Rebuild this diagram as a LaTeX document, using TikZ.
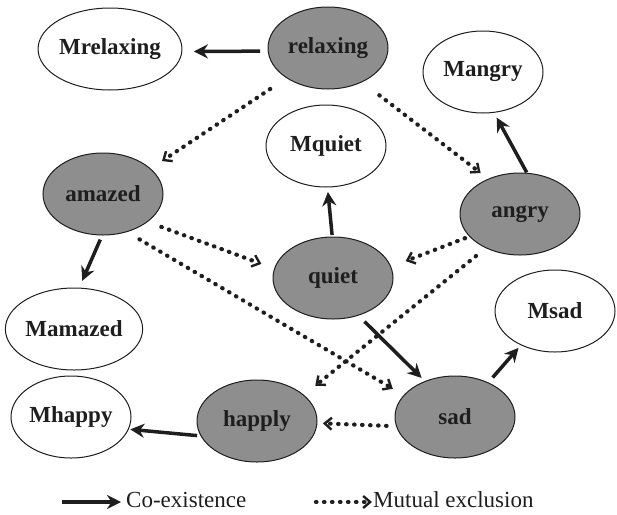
\documentclass[tikz,border=0pt]{standalone}
\usepackage{fontspec}
\setmainfont{Liberation Serif}
\usetikzlibrary{shapes.geometric,arrows.meta}
\definecolor{nodegray}{RGB}{142,142,142}
\definecolor{ink}{RGB}{30,30,30}
\begin{document}
\begin{tikzpicture}[x=1pt,y=-1pt,
  emo/.style={ellipse,draw=ink,line width=1pt,fill=nodegray,minimum width=120pt,minimum height=82pt,inner sep=0pt,outer sep=0pt,font=\fontsize{23}{27}\selectfont\bfseries,text=ink},
  mem/.style={emo,fill=white},
  coex/.style={draw=ink,line width=3.5pt,-{Stealth[length=14pt,width=14pt]}},
  mutex/.style={draw=ink,line width=4.2pt,line cap=round,dash pattern=on 0.5pt off 7.5pt,-{Straight Barb[length=7pt,width=12pt,line width=2.4pt]}},
  legtext/.style={anchor=west,font=\fontsize{23}{27}\selectfont,text=ink,inner sep=0pt}
]
\useasboundingbox (0,0) rectangle (617,514);
\node[mem] (Mrelaxing) at (110,49) {Mrelaxing};
\node[emo] (relaxing) at (328,48) {relaxing};
\node[mem] (Mangry) at (483,72) {Mangry};
\node[mem] (Mquiet) at (326,146) {Mquiet};
\node[emo] (angry) at (520,214) {angry};
\node[emo] (amazed) at (103,194) {amazed};
\node[emo] (quiet) at (333,278) {quiet};
\node[mem] (Mamazed) at (74,329) {Mamazed};
\node[mem] (Mhappy) at (71,417) {Mhappy};
\node[emo] (happly) at (257,421) {happly};
\node[mem] (Msad) at (555,311) {Msad};
\node[emo] (sad) at (455,417) {sad};

\draw[coex,shorten <=8pt,shorten >=12pt] (relaxing.183) -- (Mrelaxing.-2);
\draw[mutex,shorten <=20pt,shorten >=14pt] (relaxing.216) -- (amazed.28);
\draw[mutex,shorten <=22pt,shorten >=10pt] (relaxing.-45) -- (angry.132);
\draw[coex,shorten <=1pt,shorten >=6pt] (angry.80) -- (Mangry.-75);
\draw[coex,shorten <=2pt,shorten >=5pt] (quiet.91) -- (Mquiet.-88);
\draw[mutex,shorten <=5pt,shorten >=16pt] (angry.204) -- (quiet.11);
\draw[mutex,shorten <=13pt,shorten >=15pt] (angry.225) -- (happly.29);
\draw[mutex,shorten <=15pt,shorten >=14pt] (amazed.-32) -- (quiet.171);
\draw[mutex,shorten <=15pt,shorten >=13pt] (amazed.-58) -- (sad.157);
\draw[coex,shorten <=5pt,shorten >=8pt] (amazed.-91) -- (Mamazed.83);
\draw[coex,shorten <=9pt,shorten >=5pt] (quiet.-56) -- (sad.130);
\draw[coex,shorten <=7pt,shorten >=4pt] (sad.46) -- (Msad.225);
\draw[mutex,shorten <=10pt,shorten >=6pt] (sad.189) -- (happly.-2);
\draw[coex,shorten <=4pt,shorten >=2pt] (happly.195) -- (Mhappy.-12);

\coordinate (l1s) at (62,502);
\coordinate (l1e) at (121,502);
\draw[coex] (l1s) -- (l1e);
\node[legtext] (lcoex) at (126,500) {Co-existence};
\coordinate (l2s) at (316,502);
\coordinate (l2e) at (372,502);
\draw[mutex] (l2s) -- (l2e);
\node[legtext] (lmutex) at (373,500) {Mutual exclusion};
\end{tikzpicture}
\end{document}
